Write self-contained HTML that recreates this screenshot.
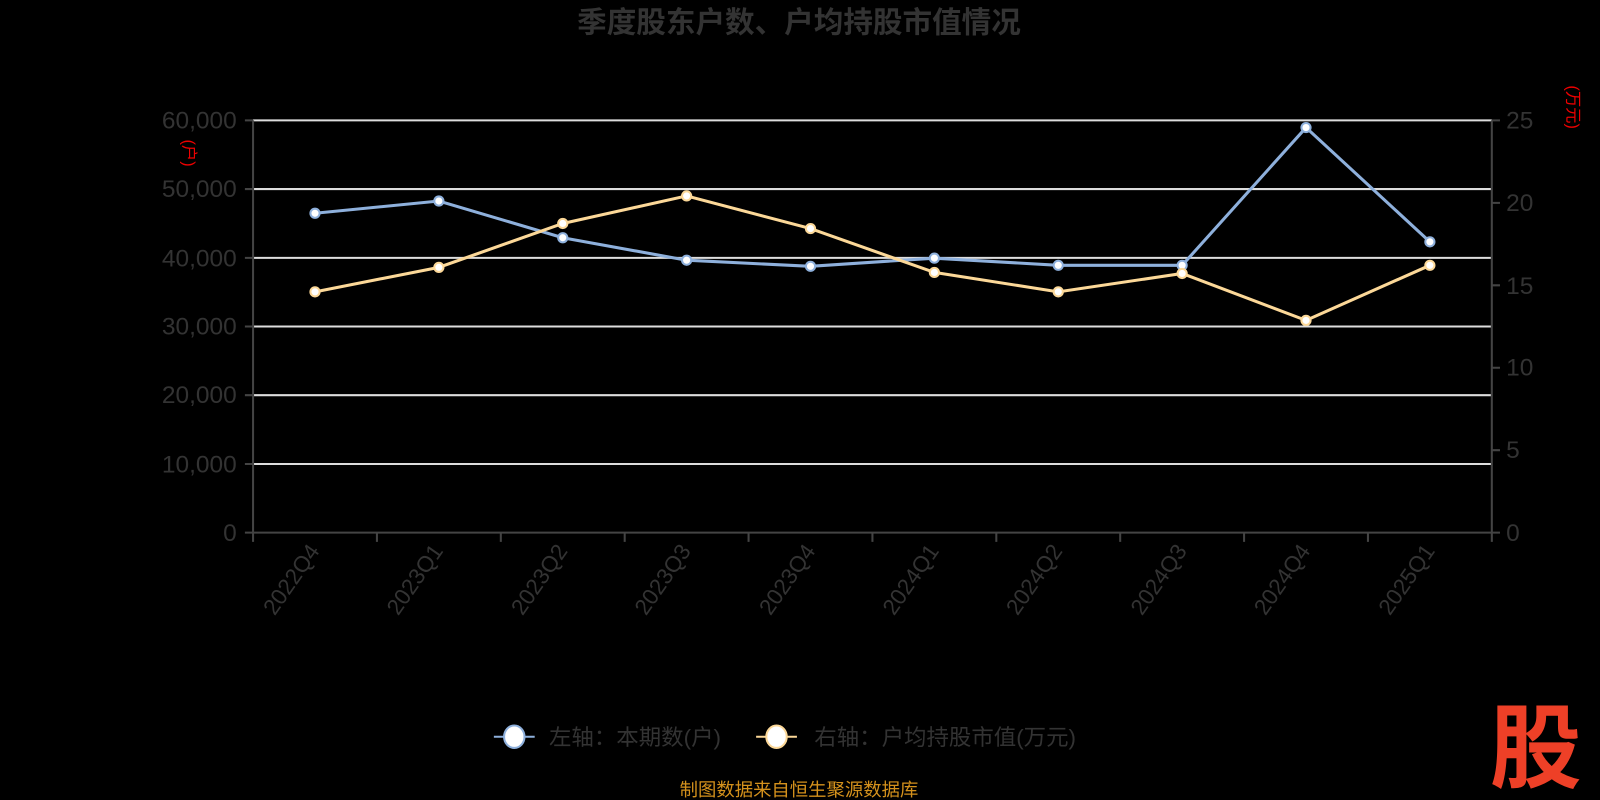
<!DOCTYPE html>
<html><head><meta charset="utf-8"><style>
html,body{margin:0;padding:0;background:#000;width:1600px;height:800px;overflow:hidden}
svg{display:block;font-family:"Liberation Sans","Noto Sans CJK SC",sans-serif}
</style></head><body>
<svg width="1600" height="800" viewBox="0 0 1600 800">
<rect width="1600" height="800" fill="#000"/>
<g transform="scale(1.0204)">
<text x="783" y="32" text-anchor="middle" font-size="29" font-weight="bold" fill="#333">季度股东户数、户均持股市值情况</text>
<g stroke="#ddd" stroke-width="2">
<line x1="248" y1="118" x2="1462" y2="118"/><line x1="248" y1="185.3" x2="1462" y2="185.3"/>
<line x1="248" y1="252.7" x2="1462" y2="252.7"/><line x1="248" y1="320" x2="1462" y2="320"/>
<line x1="248" y1="387.3" x2="1462" y2="387.3"/><line x1="248" y1="454.7" x2="1462" y2="454.7"/>
</g>
<g stroke="#444" stroke-width="2" fill="none">
<line x1="248" y1="118" x2="248" y2="522"/><line x1="1462" y1="118" x2="1462" y2="522"/>
<line x1="248" y1="522" x2="1462" y2="522"/>
<path d="M240 118h8M240 185.3h8M240 252.7h8M240 320h8M240 387.3h8M240 454.7h8M240 522h8"/>
<path d="M1462 118h8M1462 198.8h8M1462 279.6h8M1462 360.4h8M1462 441.2h8M1462 522h8"/>
<path d="M248 522v9M369.4 522v9M490.8 522v9M612.2 522v9M733.6 522v9M855 522v9M976.4 522v9M1097.8 522v9M1219.2 522v9M1340.6 522v9M1462 522v9"/>
</g>
<g font-size="24" fill="#333" text-anchor="end">
<text x="232" y="126">60,000</text><text x="232" y="193">50,000</text><text x="232" y="261">40,000</text>
<text x="232" y="328">30,000</text><text x="232" y="395">20,000</text><text x="232" y="463">10,000</text><text x="232" y="530">0</text>
</g>
<g font-size="24" fill="#333">
<text x="1476" y="126">25</text><text x="1476" y="207">20</text><text x="1476" y="288">15</text>
<text x="1476" y="368">10</text><text x="1476" y="449">5</text><text x="1476" y="530">0</text>
</g>
<text transform="translate(180,150) rotate(90)" font-size="16" fill="#e00" text-anchor="middle">(户)</text>
<text transform="translate(1536,105) rotate(90)" font-size="16" fill="#e00" text-anchor="middle">(万元)</text>
<g font-size="22" fill="#333" text-anchor="end">
<text transform="translate(314,540) rotate(-55)">2022Q4</text>
<text transform="translate(435,540) rotate(-55)">2023Q1</text>
<text transform="translate(557,540) rotate(-55)">2023Q2</text>
<text transform="translate(678,540) rotate(-55)">2023Q3</text>
<text transform="translate(800,540) rotate(-55)">2023Q4</text>
<text transform="translate(921,540) rotate(-55)">2024Q1</text>
<text transform="translate(1042,540) rotate(-55)">2024Q2</text>
<text transform="translate(1164,540) rotate(-55)">2024Q3</text>
<text transform="translate(1285,540) rotate(-55)">2024Q4</text>
<text transform="translate(1407,540) rotate(-55)">2025Q1</text>
</g>
<polyline fill="none" stroke="#8eb0dc" stroke-width="3" points="308.7,209 430.1,197 551.5,233 672.9,255 794.3,261 915.7,253 1037.1,260 1158.5,260 1279.9,125 1401.3,237"/>
<polyline fill="none" stroke="#fcd898" stroke-width="3" points="308.7,286 430.1,262 551.5,219 672.9,192 794.3,224 915.7,267 1037.1,286 1158.5,268 1279.9,314 1401.3,260"/>
<g fill="#fff" stroke="#8eb0dc" stroke-width="2">
<circle cx="308.7" cy="209" r="4.5"/><circle cx="430.1" cy="197" r="4.5"/><circle cx="551.5" cy="233" r="4.5"/><circle cx="672.9" cy="255" r="4.5"/><circle cx="794.3" cy="261" r="4.5"/><circle cx="915.7" cy="253" r="4.5"/><circle cx="1037.1" cy="260" r="4.5"/><circle cx="1158.5" cy="260" r="4.5"/><circle cx="1279.9" cy="125" r="4.5"/><circle cx="1401.3" cy="237" r="4.5"/>
</g>
<g fill="#fff" stroke="#fcd898" stroke-width="2">
<circle cx="308.7" cy="286" r="4.5"/><circle cx="430.1" cy="262" r="4.5"/><circle cx="551.5" cy="219" r="4.5"/><circle cx="672.9" cy="192" r="4.5"/><circle cx="794.3" cy="224" r="4.5"/><circle cx="915.7" cy="267" r="4.5"/><circle cx="1037.1" cy="286" r="4.5"/><circle cx="1158.5" cy="268" r="4.5"/><circle cx="1279.9" cy="314" r="4.5"/><circle cx="1401.3" cy="260" r="4.5"/>
</g>
<line x1="484" y1="722" x2="524" y2="722" stroke="#8eb0dc" stroke-width="2"/>
<ellipse cx="504" cy="722" rx="10" ry="11" fill="#fff" stroke="#8eb0dc" stroke-width="2"/>
<text x="538" y="730" font-size="22" fill="#333">左轴：本期数(户)</text>
<line x1="741" y1="722" x2="781" y2="722" stroke="#fcd898" stroke-width="2"/>
<ellipse cx="761" cy="722" rx="10" ry="11" fill="#fff" stroke="#fcd898" stroke-width="2"/>
<text x="798" y="730" font-size="22" fill="#333">右轴：户均持股市值(万元)</text>
<text x="783" y="780" text-anchor="middle" font-size="18" fill="#d4911c">制图数据来自恒生聚源数据库</text>
<text x="1505" y="765" text-anchor="middle" font-size="90" font-weight="bold" fill="#ee4027">股</text>
</g>
</svg>
</body></html>
